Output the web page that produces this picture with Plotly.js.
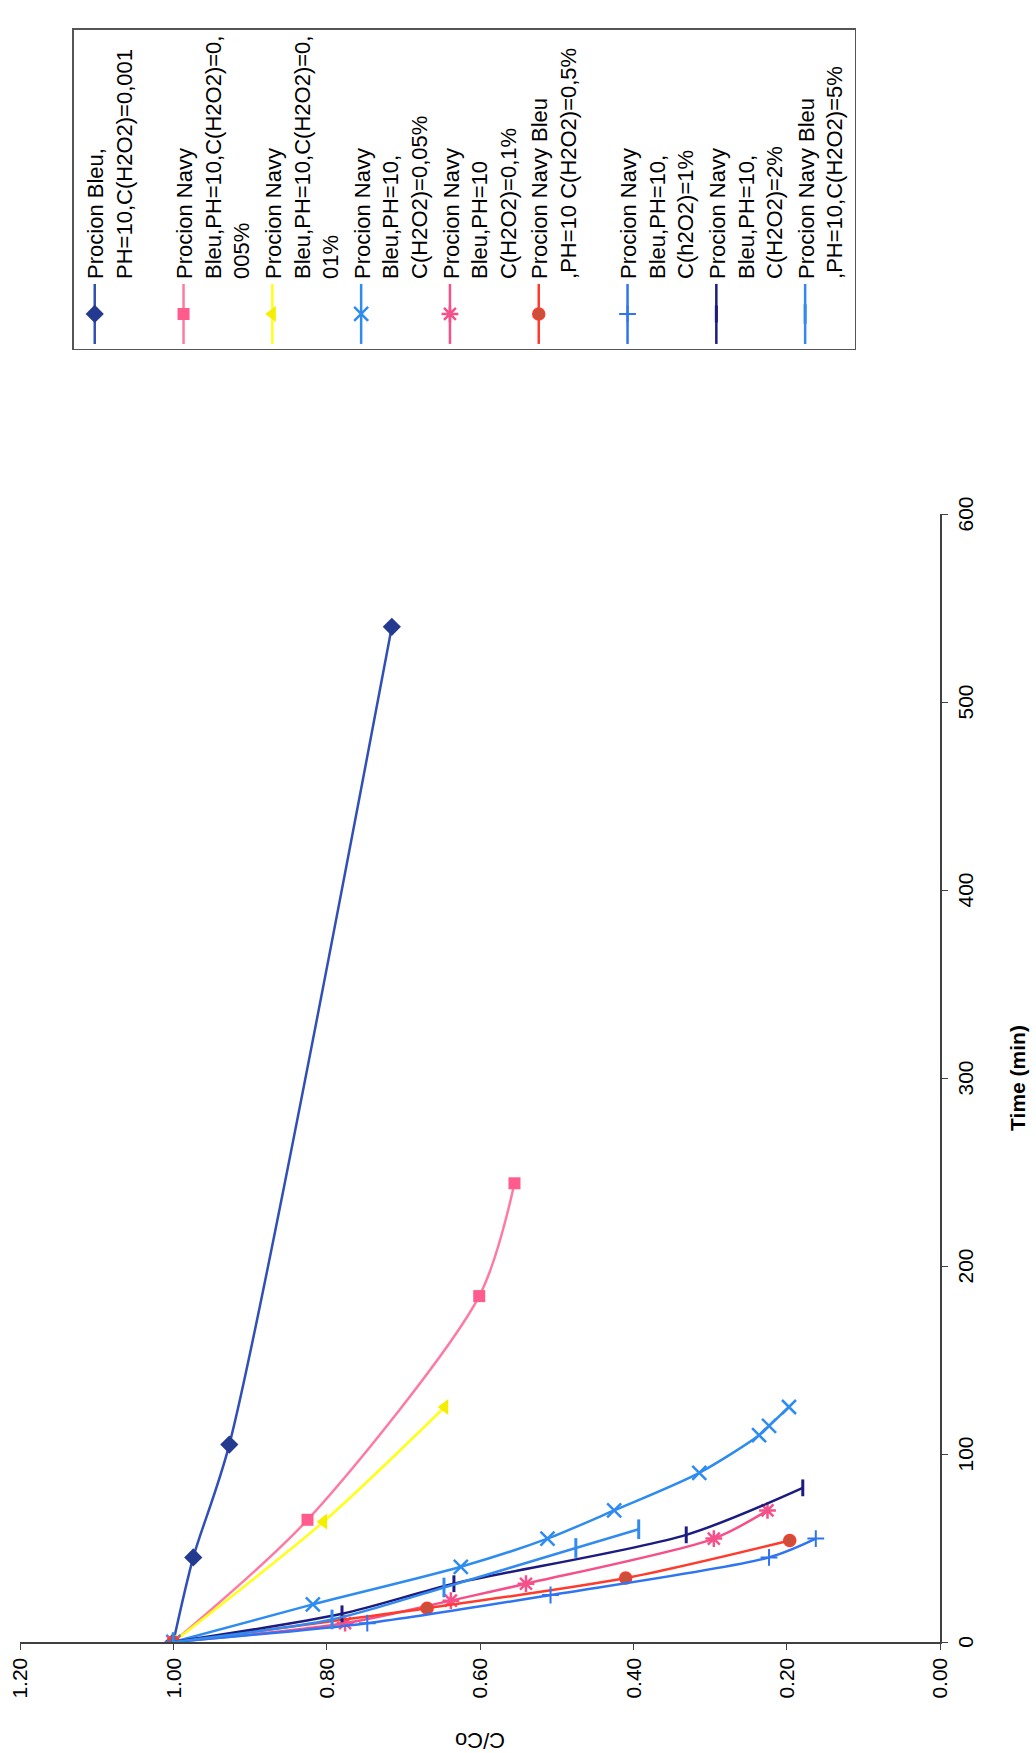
<!DOCTYPE html>
<html>
<head>
<meta charset="utf-8">
<script src="https://cdn.plot.ly/plotly-3.0.1.min.js"></script>
<style>
  html, body { margin: 0; padding: 0; background: #ffffff; width: 1036px; height: 1753px; overflow: hidden; }
  #chart { position: absolute; left: 0; top: 0; width: 1753px; height: 1036px;
           transform-origin: 0 0; transform: translate(0px, 1753px) rotate(-90deg); }
</style>
</head>
<body>
<div id="chart"></div>
<script>
// ---- data (time in min, C/C0) ----
const time_bleu_0001 = [0, 45, 105, 540];
const cc0_bleu_0001  = [1.00, 0.974, 0.927, 0.715];

const time_navy_0005 = [0, 65, 184, 244];
const cc0_navy_0005  = [1.00, 0.825, 0.601, 0.555];

const time_navy_001 = [0, 64, 125];
const cc0_navy_001  = [1.00, 0.804, 0.646];

const time_navy_005 = [0, 20, 40, 55, 70, 90, 110, 115, 125];
const cc0_navy_005  = [1.00, 0.818, 0.625, 0.512, 0.425, 0.314, 0.236, 0.223, 0.197];

const time_navy_01 = [0, 10, 22, 31, 55, 70];
const cc0_navy_01  = [1.00, 0.776, 0.638, 0.540, 0.295, 0.225];

const time_navy_05 = [0, 18, 34, 54];
const cc0_navy_05  = [1.00, 0.669, 0.410, 0.196];

const time_navy_1 = [0, 10, 25, 45, 55];
const cc0_navy_1  = [1.00, 0.747, 0.508, 0.223, 0.162];

const time_navy_2 = [0, 15, 31, 57, 82];
const cc0_navy_2  = [1.00, 0.780, 0.634, 0.331, 0.179];

const time_navy_5 = [0, 12, 29, 50, 60];
const cc0_navy_5  = [1.00, 0.793, 0.647, 0.475, 0.393];

const seriesNames = [
  "Procion Bleu,<br>PH=10,C(H2O2)=0,001<br>&nbsp;",
  "Procion Navy<br>Bleu,PH=10,C(H2O2)=0,<br>005%",
  "Procion Navy<br>Bleu,PH=10,C(H2O2)=0,<br>01%",
  "Procion Navy<br>Bleu,PH=10,<br>C(H2O2)=0,05%",
  "Procion Navy<br>Bleu,PH=10<br>C(H2O2)=0,1%",
  "Procion Navy Bleu<br>,PH=10 C(H2O2)=0,5%<br>&nbsp;",
  "Procion Navy<br>Bleu,PH=10,<br>C(h2O2)=1%",
  "Procion Navy<br>Bleu,PH=10,<br>C(H2O2)=2%",
  "Procion Navy Bleu<br>,PH=10,C(H2O2)=5%"
];

const xTickVals = [0, 100, 200, 300, 400, 500, 600];
const yTickVals = [0, 0.2, 0.4, 0.6, 0.8, 1.0, 1.2];

function tr(x, y, name, lineColor, symbol, markerColor, size, mlineColor, mlineWidth) {
  return {
    x: x, y: y, name: name, type: 'scatter', mode: 'lines+markers',
    line: { color: lineColor, width: 2.5, shape: 'spline', smoothing: 0.8 },
    marker: { symbol: symbol, color: markerColor, size: size,
              line: { color: mlineColor || markerColor, width: mlineWidth || 0 } }
  };
}

const traces = [
  tr(time_bleu_0001, cc0_bleu_0001, seriesNames[0], '#3050b8', 'diamond', '#233a8f', 14),
  tr(time_navy_0005, cc0_navy_0005, seriesNames[1], '#ff7aa3', 'square', '#ff5c8d', 12),
  tr(time_navy_001, cc0_navy_001, seriesNames[2], '#ffff1a', 'triangle-up', '#f5ee00', 14),
  tr(time_navy_005, cc0_navy_005, seriesNames[3], '#2e8cf0', 'x-thin-open', '#2e8cf0', 14, '#2e8cf0', 2.5),
  tr(time_navy_01, cc0_navy_01, seriesNames[4], '#f5508a', 'asterisk-open', '#f5508a', 14, '#f5508a', 2.5),
  tr(time_navy_05, cc0_navy_05, seriesNames[5], '#ff3b2e', 'circle', '#c9503a', 12, '#ff3b2e', 1.5),
  tr(time_navy_1, cc0_navy_1, seriesNames[6], '#2f74f0', 'cross-thin-open', '#2f74f0', 12, '#2f74f0', 2),
  tr(time_navy_2, cc0_navy_2, seriesNames[7], '#1c1c80', 'line-ew-open', '#1c1c80', 12, '#1c1c80', 3),
  tr(time_navy_5, cc0_navy_5, seriesNames[8], '#338aee', 'line-ew-open', '#338aee', 14, '#338aee', 3)
];

const font = 'Liberation Sans, Arial, sans-serif';

const layout = {
  width: 1753, height: 1036,
  margin: { l: 111, r: 514, t: 20, b: 96 },
  paper_bgcolor: '#ffffff', plot_bgcolor: '#ffffff',
  font: { family: font, size: 21, color: '#000000' },
  showlegend: true,
  xaxis: {
    range: [0, 600], tickvals: xTickVals, ticktext: xTickVals.map(String),
    showgrid: false, zeroline: false, showline: true, linecolor: '#404040', linewidth: 1.5,
    ticks: 'outside', ticklen: 6, tickcolor: '#404040', tickwidth: 1,
    tickfont: { family: font, size: 21, color: '#000000' },
    title: { text: '<b>Time (min)</b>', font: { family: font, size: 21, color: '#000000' }, standoff: 34 },
    automargin: false
  },
  yaxis: {
    range: [0, 1.2], tickvals: yTickVals, tickformat: '.2f',
    showgrid: false, zeroline: false, showline: true, linecolor: '#404040', linewidth: 1.5,
    ticks: 'outside', ticklen: 6, tickcolor: '#404040', tickwidth: 1, ticklabelstandoff: 4,
    tickfont: { family: font, size: 21, color: '#000000' },
    title: { text: 'C/Co', font: { family: font, size: 22, color: '#000000' }, standoff: 29 },
    automargin: false
  },
  legend: {
    x: 1.145, xanchor: 'left', y: 0.943, yanchor: 'top',
    bgcolor: '#ffffff', bordercolor: '#555555', borderwidth: 1.5,
    font: { family: font, size: 22, color: '#000000' },
    valign: 'top', itemwidth: 60, tracegroupgap: 0
  }
};

Plotly.newPlot('chart', traces, layout, { displayModeBar: false, staticPlot: true });
</script>
</body>
</html>
